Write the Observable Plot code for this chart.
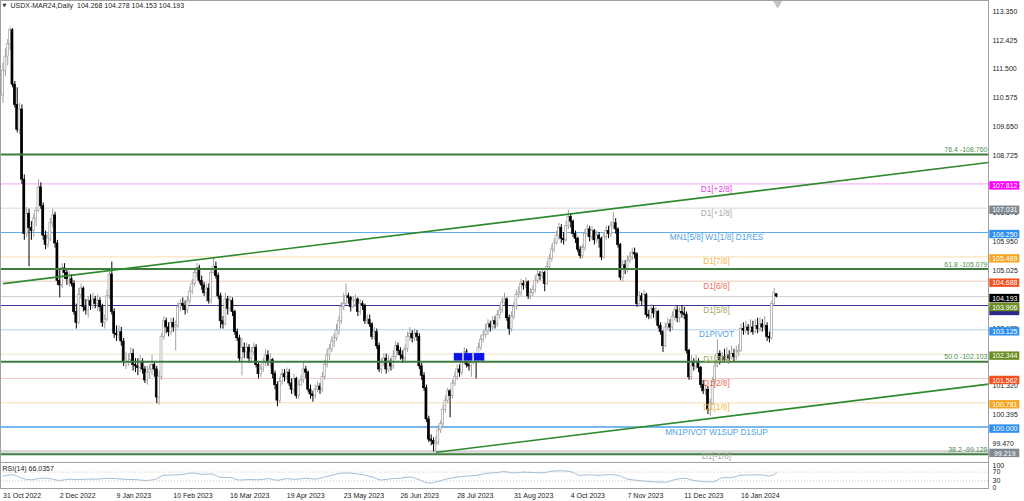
<!DOCTYPE html>
<html><head><meta charset="utf-8">
<script src="https://cdn.jsdelivr.net/npm/d3@7"></script>
<script src="https://cdn.jsdelivr.net/npm/@observablehq/plot@0.6"></script>
<style>
html,body{margin:0;padding:0;background:#fff;}
#wrap{position:relative;width:1024px;height:501px;overflow:hidden;font-family:"Liberation Sans",Arial,sans-serif;}
#main{position:absolute;left:0;top:0;}
#rsi{position:absolute;left:0;top:462px;}
svg{overflow:visible;}
</style></head><body><div id="wrap"><div id="main"></div><div id="rsi"></div></div>
<script>
// ---- daily candles (bar index 0 = 31 Oct 2022) ----
const O = [110.65,111.45,111.9,112.3,112.75,111.0,110.35,109.55,110.2,107.95,106.2,106.85,
106.4,106.3,106.7,106.95,107.7,107.1,106.15,105.85,106.05,106.55,106.8,105.9,
104.7,104.55,105.1,104.95,104.75,104.75,104.6,103.7,103.35,104.25,104.45,103.85,
103.75,104.05,103.9,104.1,103.95,104.05,103.85,103.35,103.45,104.2,104.9,103.7,
103.0,102.95,103.05,102.75,102.1,102.15,102.15,102.35,102.0,101.95,101.9,102.1,
101.85,101.5,101.75,101.85,102.0,101.85,100.95,101.6,102.9,103.4,103.2,103.05,
103.35,103.2,103.25,103.85,103.95,103.9,103.75,104.05,104.35,104.6,104.95,105.1,
104.7,104.55,104.3,104.45,104.05,104.95,105.15,104.85,104.2,103.4,103.3,104.1,
103.8,104.05,103.7,103.05,102.85,102.2,102.55,102.4,102.55,102.2,102.4,102.55,
102.0,101.7,101.85,102.05,102.3,102.1,102.15,101.7,101.35,100.85,101.45,101.7,
101.6,101.75,101.4,101.2,101.55,101.0,101.35,101.5,101.85,101.75,101.2,101.05,
101.0,101.2,101.3,101.2,101.6,102.0,102.3,102.5,102.75,102.85,103.1,103.4,
103.85,103.95,104.2,104.15,103.85,104.05,104.1,103.7,103.95,103.9,103.4,103.45,
103.3,102.9,103.05,102.6,101.85,102.05,102.2,101.85,102.1,101.95,102.25,102.6,
102.45,102.3,102.2,102.5,102.9,103.0,102.85,103.0,102.9,101.95,101.65,101.25,
100.25,99.6,99.55,99.45,99.5,99.9,100.1,100.55,100.85,101.15,101.0,101.4,
101.6,101.85,101.75,102.1,102.4,102.0,101.95,102.1,102.25,102.15,102.55,102.8,
102.95,103.1,103.3,103.2,103.4,103.3,103.6,103.75,104.0,104.1,103.5,103.15,
103.55,103.85,104.25,104.3,104.6,104.55,104.65,104.2,104.3,104.4,104.7,104.9,
104.85,104.95,104.6,105.15,105.4,105.7,105.9,106.15,106.4,106.05,106.0,106.45,
106.75,106.6,106.2,106.05,105.7,105.5,105.75,106.2,106.35,106.1,106.3,106.0,
106.15,106.05,105.45,106.1,106.3,106.2,106.45,106.55,106.35,105.85,104.8,105.2,
105.05,105.35,105.45,105.6,105.55,103.95,104.2,104.05,104.25,103.6,103.55,103.8,
103.65,103.7,103.25,103.05,102.6,103.2,103.3,103.2,103.55,103.75,103.5,103.7,
103.65,103.6,102.45,101.6,102.1,101.95,102.1,101.9,101.35,101.15,101.2,100.55,
100.75,101.45,101.95,102.35,102.15,102.25,102.15,102.3,102.2,102.35,102.25,102.4,
102.45,103.15,103.1,103.2,103.1,103.2,103.05,103.25,103.15,103.3,103.2,103.25,
102.9,102.85,103.95,104.268];
const H = [111.7,112.15,112.45,112.85,112.8,111.1,110.9,110.4,110.35,108.1,107.05,107.0,
106.6,106.85,107.05,107.95,107.85,107.2,106.3,106.2,106.7,107.0,106.9,106.0,
105.1,105.25,105.25,105.05,105.0,104.9,104.7,103.95,104.45,104.6,104.5,104.1,
104.2,104.25,104.3,104.2,104.25,104.15,103.95,103.6,104.4,105.05,105.3,103.8,
103.25,103.25,103.2,102.85,102.4,102.35,102.55,102.5,102.2,102.2,102.3,102.2,
101.95,101.95,102.0,102.3,102.1,101.95,101.8,103.0,103.55,103.5,103.35,103.5,
103.5,103.4,104.0,104.1,104.15,104.05,104.2,104.5,104.75,105.1,105.25,105.2,
104.85,104.65,104.6,104.6,105.05,105.45,105.3,104.95,104.3,103.55,104.3,104.2,
104.2,104.15,103.75,103.15,102.95,102.85,102.7,102.7,102.65,102.55,102.7,102.65,
102.1,102.0,102.2,102.5,102.45,102.35,102.2,101.8,101.45,101.6,101.85,101.85,
101.9,101.85,101.55,101.7,101.6,101.5,101.65,102.05,101.95,101.8,101.35,101.15,
101.35,101.45,101.4,101.75,102.15,102.5,102.65,102.9,103.0,103.3,103.55,104.0,
104.3,104.6,104.3,104.2,104.2,104.25,104.15,104.1,104.05,103.95,103.6,103.6,
103.35,103.2,103.15,102.7,102.2,102.35,102.35,102.3,102.2,102.45,102.75,102.7,
102.55,102.45,102.65,103.05,103.2,103.1,103.15,103.1,103.0,102.05,101.75,101.35,
100.35,99.75,99.65,99.7,100.05,100.2,100.7,101.0,101.25,101.2,101.5,101.75,
102.0,102.0,102.25,102.55,102.5,102.15,102.25,102.4,102.35,102.7,102.95,103.1,
103.3,103.45,103.4,103.55,103.55,103.75,103.9,104.15,104.3,104.15,103.6,103.7,
104.0,104.4,104.5,104.75,104.7,104.8,104.7,104.45,104.55,104.85,105.05,105.0,
105.1,105.0,105.3,105.55,105.85,106.05,106.3,106.55,106.5,106.25,106.6,106.97,
106.85,106.65,106.3,106.1,105.8,105.85,106.35,106.5,106.45,106.45,106.35,106.3,
106.25,106.1,106.25,106.45,106.45,106.6,106.9,106.7,106.4,105.9,105.35,105.35,
105.5,105.6,105.75,105.75,105.6,104.35,104.3,104.4,104.3,103.75,103.95,103.9,
103.85,103.75,103.35,103.1,103.35,103.5,103.45,103.7,103.85,103.9,103.85,103.9,
103.85,103.7,102.5,102.3,102.2,102.3,102.2,101.95,101.5,101.35,101.3,100.9,
101.6,102.1,102.8,102.45,102.4,102.5,102.55,102.45,102.6,102.5,102.6,102.65,
103.3,103.35,103.4,103.3,103.45,103.4,103.45,103.5,103.5,103.45,103.55,103.35,
103.05,104.05,104.45,104.278];
const L = [110.4,111.25,111.6,112.1,110.9,110.25,109.45,109.4,107.8,106.0,106.1,105.15,
106.0,106.1,106.45,106.9,107.0,106.0,105.7,105.75,105.95,106.4,105.75,104.55,
104.15,104.45,104.75,104.55,104.5,104.5,103.6,103.15,103.3,104.1,103.7,103.6,
103.5,103.75,103.8,103.8,103.7,103.7,103.2,103.15,103.4,104.1,103.6,102.85,
102.75,102.8,102.6,101.95,101.85,101.95,102.05,101.8,101.75,101.65,101.75,101.7,
101.4,101.35,101.55,101.65,101.6,100.75,100.7,101.5,102.8,103.0,102.9,102.95,
103.05,102.45,103.15,103.7,103.75,103.6,103.65,103.95,104.25,104.5,104.8,104.6,
104.4,104.2,104.0,103.95,103.95,104.9,104.75,104.1,103.15,103.15,103.25,103.6,
103.7,103.55,102.95,102.75,102.1,101.65,102.2,102.2,102.05,102.05,102.3,101.9,
101.55,101.6,101.75,101.95,101.95,101.9,101.55,101.2,100.65,100.75,101.35,101.45,
101.5,101.3,101.05,101.05,100.9,100.9,101.3,101.4,101.55,101.1,100.9,100.8,
100.9,101.1,101.05,101.1,101.5,101.9,102.15,102.4,102.55,102.75,102.95,103.3,
103.75,103.9,103.95,103.7,103.8,103.85,103.55,103.6,103.75,103.3,103.3,103.2,
102.8,102.8,102.5,101.75,101.7,101.95,101.7,101.75,101.8,101.85,102.15,102.3,
102.15,102.05,102.1,102.4,102.75,102.7,102.75,102.75,101.85,101.5,101.15,100.15,
99.5,99.4,99.2,99.18,99.4,99.8,100.0,100.45,100.75,100.3,100.9,101.3,
101.5,101.6,101.65,102.0,101.9,101.8,101.6,102.0,101.55,102.05,102.45,102.7,
102.85,102.95,103.05,103.1,103.15,103.2,103.45,103.65,103.9,103.4,102.95,103.05,
103.45,103.75,104.15,104.2,104.4,104.45,104.1,104.1,104.2,104.3,104.6,104.7,
104.75,104.35,104.55,105.05,105.3,105.6,105.85,106.0,105.9,105.85,105.95,106.35,
106.4,106.1,105.9,105.6,105.4,105.4,105.65,106.1,105.95,106.0,105.85,105.9,
105.75,105.35,105.4,106.0,106.05,106.1,106.35,106.2,105.75,104.7,104.65,104.9,
104.95,105.25,105.35,105.4,103.85,103.85,103.9,103.95,103.5,103.45,103.45,103.5,
103.4,103.15,102.95,102.4,102.55,103.1,103.05,103.1,103.4,103.35,103.35,103.5,
103.45,102.35,101.5,101.5,101.8,101.85,101.75,101.25,101.05,101.0,100.4,100.35,
100.7,101.35,101.9,102.0,102.05,102.05,102.1,102.05,102.15,102.1,102.15,102.25,
102.4,102.95,103.0,102.95,103.0,102.95,103.0,103.0,103.05,103.05,103.1,102.75,
102.7,102.8,103.9,104.153];
const C = [111.45,111.9,112.3,112.75,111.0,110.35,109.55,110.2,107.95,106.2,106.85,106.4,
106.3,106.7,106.95,107.7,107.1,106.15,105.85,106.05,106.55,106.8,105.9,104.7,
104.55,105.1,104.95,104.75,104.75,104.6,103.7,103.35,104.25,104.45,103.85,103.75,
104.05,103.9,104.1,103.95,104.05,103.85,103.35,103.45,104.2,104.9,103.7,103.0,
102.95,103.05,102.75,102.1,102.15,102.15,102.35,102.0,101.95,101.9,102.1,101.85,
101.5,101.75,101.85,102.0,101.85,100.95,101.6,102.9,103.4,103.2,103.05,103.35,
103.2,103.25,103.85,103.95,103.9,103.75,104.05,104.35,104.6,104.95,105.1,104.7,
104.55,104.3,104.45,104.05,104.95,105.15,104.85,104.2,103.4,103.3,104.1,103.8,
104.05,103.7,103.05,102.85,102.2,102.55,102.4,102.55,102.2,102.4,102.55,102.0,
101.7,101.85,102.05,102.3,102.1,102.15,101.7,101.35,100.85,101.45,101.7,101.6,
101.75,101.4,101.2,101.55,101.0,101.35,101.5,101.85,101.75,101.2,101.05,101.0,
101.2,101.3,101.2,101.6,102.0,102.3,102.5,102.75,102.85,103.1,103.4,103.85,
103.95,104.2,104.15,103.85,104.05,104.1,103.7,103.95,103.9,103.4,103.45,103.3,
102.9,103.05,102.6,101.85,102.05,102.2,101.85,102.1,101.95,102.25,102.6,102.45,
102.3,102.2,102.5,102.9,103.0,102.85,103.0,102.9,101.95,101.65,101.25,100.25,
99.6,99.55,99.45,99.5,99.9,100.1,100.55,100.85,101.15,101.0,101.4,101.6,
101.85,101.75,102.1,102.4,102.0,101.95,102.1,102.25,102.15,102.55,102.8,102.95,
103.1,103.3,103.2,103.4,103.3,103.6,103.75,104.0,104.1,103.5,103.15,103.55,
103.85,104.25,104.3,104.6,104.55,104.65,104.2,104.3,104.4,104.7,104.9,104.85,
104.95,104.6,105.15,105.4,105.7,105.9,106.15,106.4,106.05,106.0,106.45,106.75,
106.6,106.2,106.05,105.7,105.5,105.75,106.2,106.35,106.1,106.3,106.0,106.15,
106.05,105.45,106.1,106.3,106.2,106.45,106.55,106.35,105.85,104.8,105.2,105.05,
105.35,105.45,105.6,105.55,103.95,104.2,104.05,104.25,103.6,103.55,103.8,103.65,
103.7,103.25,103.05,102.6,103.2,103.3,103.2,103.55,103.75,103.5,103.7,103.65,
103.6,102.45,101.6,102.1,101.95,102.1,101.9,101.35,101.15,101.2,100.55,100.75,
101.45,101.95,102.35,102.15,102.25,102.15,102.3,102.2,102.35,102.25,102.4,102.45,
103.15,103.1,103.2,103.1,103.2,103.05,103.25,103.15,103.3,103.2,103.25,102.9,
102.85,103.95,104.3,104.193];

// ---- RSI(14) readings ----
const rsiBars = [0,4,8,12,16,20,24,28,32,36,40,44,48,52,56,60,64,68,72,76,80,84,88,92,96,100,
104,108,112,116,120,124,128,132,136,140,144,148,152,156,160,164,168,172,176,180,184,188,192,196,
200,204,208,212,216,220,224,228,232,236,240,244,248,252,256,260,264,268,272,276,280,284,288,292,
296,300,304,308,312,316,320,324,327];
const rsiValues = [52,58,42,35,42,40,32,38,36,38,38,42,40,37,36,32,36,55,57,59,66,60,62,46,45,34,
36,35,40,33,40,37,42,38,48,58,66,64,58,48,34,40,42,48,35,20,28,40,47,52,
55,64,67,72,66,70,68,67,74,76,72,55,58,55,59,55,38,33,28,25,24,36,42,32,
27,25,44,45,56,57,58,52,66.04];

// ---- tick labels ----
const xTickBars = [0,24,48,72,96,120,144,168,192,216,240,264,288,312];
const xTickLabels = ["31 Oct 2022","2 Dec 2022","9 Jan 2023","10 Feb 2023","16 Mar 2023","19 Apr 2023","23 May 2023","26 Jun 2023","28 Jul 2023","31 Aug 2023","4 Oct 2023","7 Nov 2023","11 Dec 2023","16 Jan 2024"];
const yTicks = [113.35,112.425,111.5,110.575,109.65,108.725,107.8,106.875,105.95,105.025,104.1,103.175,102.25,101.32,100.395,99.47];
const yTickLabels = ["113.350","112.425","111.500","110.575","109.650","108.725","107.800","106.875","105.950","105.025","104.100","103.175","102.250","101.320","100.395","99.470"];
const rsiTicks = [100,70,30,0];

// ---- Murrey / pivot levels ----
const levelValues = [107.812,107.031,106.250,105.469,104.688,103.906,103.125,102.344,101.562,100.781,100.000,99.219];
const levelNames = ["D1[+2/8]","D1[+1/8]","MN1[5/8] W1[1/8] D1RES","D1[7/8]","D1[6/8]","D1[5/8]","D1PIVOT","D1[3/8]","D1[2/8]","D1[1/8]","MN1PIVOT W1SUP D1SUP","D1[-1/8]"];
const levelBoxColors = ["#ff00ff","#7f8992","#2b8ff0","#f5a623","#f4511e","#6b8e23","#2b8ff0","#6b8e23","#f4511e","#f5a623","#2b8ff0","#7f8992"];
const levelTextColors = ["#e040e0","#a8a8a8","#4f9fe6","#f2b544","#e8755a","#a3a85a","#4f9fe6","#a3a85a","#e8684a","#f2b544","#4f9fe6","#a8a8a8"];
const levelLineColors = ["#f2a6f2","#e6e6e6","#5aaae8","#f8ddb0","#ecc9bb","#3a3a9c","#b4d0ee","#ebe3cf","#f2cbc2","#f8dcb8","#4aa0e8","#d9d9d9"];
const levelLineWidths = [1,1.5,1,1,1,1,1,1,1,1,1.5,3];

// ---- Fibonacci levels ----
const fibValues = [108.760,105.079,102.103,99.128];
const fibLabels = ["76.4 -108.760","61.8 -105.079","50.0 -102.103","38.2 -99.128"];

// ---- trend lines ----
const upperTrendBars = [0.2,416.6];
const upperTrendPrices = [104.61,108.50];
const lowerTrendBars = [183.35,416.6];
const lowerTrendPrices = [99.19,101.38];

// ---- blue zone boxes ----
const zoneX1 = [190.7,194.8,199.2];
const zoneX2 = [194.5,198.8,203.8];
const zoneLow = 102.11, zoneHigh = 102.37;

const lastPrice = 104.193;
const hiddenBoxPrice = 103.78;
const markerBar = 327.5, markerPrice = 113.704;
const header = "USDX-MAR24,Daily  104.268 104.278 104.153 104.193";
const rsiTitle = "RSI(14) 66.0357";

// ---------------------------------------------------------
const bars = C.map((c, i) => ({i, o: O[i], h: H[i], l: L[i], c, up: c >= O[i]}));
const levels = levelValues.map((v, i) => ({v, name: levelNames[i], box: levelBoxColors[i], txt: levelTextColors[i], line: levelLineColors[i], w: levelLineWidths[i]}));
const fibs = fibValues.map((v, i) => ({v, label: fibLabels[i]}));
const upperTrend = upperTrendBars.map((x, i) => ({x, y: upperTrendPrices[i]}));
const lowerTrend = lowerTrendBars.map((x, i) => ({x, y: lowerTrendPrices[i]}));
const zones = zoneX1.map((x1, i) => ({x1, x2: zoneX2[i]}));
const rsi = rsiBars.map((x, i) => ({x, v: rsiValues[i]}));
const tickLabelMap = new Map(yTicks.map((v, i) => [v, yTickLabels[i]]));
const boxes = [...levels.map(d => ({v: d.v, fill: d.box})), {v: lastPrice, fill: "#000000"}];

const xDomain = [-1.06, 416.6];
const boxX1 = 417.14, boxX2 = 429.83, boxXc = 423.5;
const font = "Liberation Sans, Arial, sans-serif";

const main = Plot.plot({
  width: 1024, height: 462,
  marginLeft: 0, marginRight: 36, marginTop: 0, marginBottom: 0,
  style: {fontFamily: font, fontSize: "7px", background: "transparent", overflow: "visible"},
  x: {type: "linear", domain: xDomain, axis: null},
  y: {domain: [98.863, 113.704]},
  color: {type: "identity"},
  marks: [
    ...levels.map(d => Plot.ruleY([d.v], {stroke: d.line, strokeWidth: d.w})),
    Plot.ruleY([lastPrice], {stroke: "#cfcfcf", strokeWidth: 1}),
    Plot.ruleX(bars, {x: "i", y1: "l", y2: "h", stroke: d => d.up ? "#a0a0a0" : "#000000", strokeWidth: 1}),
    Plot.rectY(bars, {x1: d => d.i - 0.42, x2: d => d.i + 0.42, y1: "o", y2: "c", fill: d => d.up ? "#ffffff" : "#000000", stroke: d => d.up ? "#a0a0a0" : "#000000", strokeWidth: 0.7}),
    Plot.rect(zones, {x1: "x1", x2: "x2", y1: () => zoneLow, y2: () => zoneHigh, fill: "#0a12e6", stroke: "#ffffff", strokeWidth: 0.5}),
    Plot.ruleY(fibs, {y: "v", stroke: "#3f7d3f", strokeWidth: 2}),
    Plot.line(upperTrend, {x: "x", y: "y", stroke: "#2f8a2f", strokeWidth: 1.6}),
    Plot.line(lowerTrend, {x: "x", y: "y", stroke: "#2f8a2f", strokeWidth: 1.6}),
    Plot.dot([markerBar], {x: d => d, y: () => markerPrice, symbol: "diamond", r: 5, fill: "#c4c4c4"}),
    Plot.text(fibs, {y: "v", text: "label", frameAnchor: "right", textAnchor: "end", dx: -1, dy: -4.5, fill: "#4f8f4f", fontSize: 7}),
    Plot.text(levels, {x: () => 301.6, y: "v", text: "name", fill: "txt", fontSize: 8.2, dy: 5}),
    Plot.axisY({ticks: yTicks, anchor: "right", label: null, tickSize: 0, tickPadding: 4, tickFormat: d => tickLabelMap.get(d), fontSize: 7, fill: "#222"}),
    Plot.rect([hiddenBoxPrice], {x1: () => boxX1, x2: () => boxX2, y1: d => d - 0.2, y2: d => d + 0.07, fill: "#2a2a8a"}),
    Plot.rect(boxes, {x1: () => boxX1, x2: () => boxX2, y1: d => d.v - 0.199, y2: d => d.v + 0.071, fill: "fill"}),
    Plot.text(boxes, {x: () => boxXc, y: "v", text: d => d.v.toFixed(3), dy: 2, fill: "#ffffff", fontSize: 7}),
    Plot.text([header], {frameAnchor: "top-left", text: d => d, dx: 10, dy: 5, lineAnchor: "middle", fill: "#222", fontSize: 7}),
    Plot.text(["\u25BC"], {frameAnchor: "top-left", text: d => d, dx: 2, dy: 5, lineAnchor: "middle", fill: "#333", fontSize: 5, fontFamily: "DejaVu Sans"}),
    Plot.frame({stroke: "#a0a0a0"})
  ]
});
document.getElementById("main").appendChild(main);

const rsiChart = Plot.plot({
  width: 1024, height: 39,
  marginLeft: 0, marginRight: 36, marginTop: 0, marginBottom: 13,
  style: {fontFamily: font, fontSize: "7px", background: "transparent", overflow: "visible"},
  x: {type: "linear", domain: xDomain, axis: null},
  y: {domain: [-4.5, 113.6]},
  marks: [
    Plot.ruleY([70, 30], {stroke: "#c8c8c8", strokeDasharray: "1,2"}),
    Plot.line(rsi, {x: "x", y: "v", stroke: "#a4bdd4", strokeWidth: 1, curve: "monotone-x"}),
    Plot.text([rsiTitle], {frameAnchor: "top-left", text: d => d, dx: 2, dy: 6, lineAnchor: "middle", fill: "#222", fontSize: 7}),
    Plot.axisY({ticks: rsiTicks, anchor: "right", label: null, tickSize: 0, tickPadding: 4, fontSize: 7, fill: "#222"}),
    Plot.text(xTickBars, {x: d => d, text: (d, i) => xTickLabels[i], frameAnchor: "bottom", textAnchor: "start", lineAnchor: "middle", dy: 7.5, fill: "#222", fontSize: 7}),
    Plot.frame({stroke: "#a0a0a0"})
  ]
});
document.getElementById("rsi").appendChild(rsiChart);
</script></body></html>
